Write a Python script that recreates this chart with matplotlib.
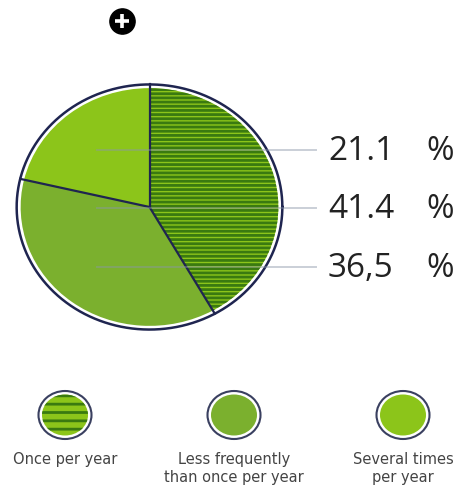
import matplotlib
matplotlib.use("Agg")
import matplotlib.pyplot as plt
from matplotlib.patches import Ellipse
import numpy as np

# data
categories = ["Once per year", "Less frequently\nthan once per year", "Several times\nper year"]
values = [41.4, 36.5, 21.1]
value_labels = ["41.4", "36,5", "21.1"]

NAVY = "#1f2550"
GREEN_LIGHT = "#8cc51a"
GREEN_MID = "#7bb02e"
STRIPE = "#3a7a10"
fills = [GREEN_LIGHT, GREEN_MID, GREEN_LIGHT]
hatches = ["----", None, None]

plt.rcParams["font.family"] = ["Open Sans", "DejaVu Sans"]
plt.rcParams["hatch.linewidth"] = 2.0

W, H = 461, 490
fig = plt.figure(figsize=(W / 100, H / 100), dpi=100)

# pie (slightly elliptical, as in the original)
pl, pt, pr, pb = 14, 82, 285, 332
pax = fig.add_axes([pl / W, 1 - pb / H, (pr - pl) / W, (pb - pt) / H])
wedges, _ = pax.pie(values, startangle=90, counterclock=False, radius=0.97,
                    colors=fills, wedgeprops=dict(linewidth=0))
for w, h in zip(wedges, hatches):
    if h:
        w.set_hatch(h)
        w.set_edgecolor(STRIPE)
pax.set_aspect("auto")
pax.set_xlim(-1.02, 1.02)
pax.set_ylim(-1.02, 1.02)
pax.axis("off")
# slice borders
for w in wedges:
    a = np.deg2rad(w.theta1)
    pax.plot([0, np.cos(a)], [0, np.sin(a)], color=NAVY, lw=1.6, zorder=5)
t = np.linspace(0, 2 * np.pi, 300)
pax.plot(np.cos(t), np.sin(t), color=NAVY, lw=1.8, zorder=5)

# pixel overlay axes for icon, leader lines, labels and legend
ax = fig.add_axes([0, 0, 1, 1])
ax.set_xlim(0, W)
ax.set_ylim(H, 0)
ax.axis("off")

# leader lines and percentage labels
label_order = [2, 0, 1]
label_y = [150, 208, 267]
for i, y in zip(label_order, label_y):
    ax.plot([97, 316], [y, y], color="#8a96a8", lw=1.4, alpha=0.45, zorder=3)
    ax.text(328, y + 1, value_labels[i], fontsize=24, color="#222222",
            ha="left", va="center")
    ax.text(426, y + 1, "%", fontsize=24, color="#222222",
            ha="left", va="center")

# plus icon
ax.scatter([122], [21], s=330, color="black", zorder=6)
ax.scatter([122], [21], s=90, marker="+", color="white", linewidths=2.6, zorder=7)

# legend
leg_x = [65, 234, 403]
leg_y = 415
for x, c, h, lab in zip(leg_x, fills, hatches, categories):
    ax.add_patch(Ellipse((x, leg_y), 53, 48, facecolor="white",
                         edgecolor="#3a4060", lw=1.5, zorder=4))
    ax.add_patch(Ellipse((x, leg_y), 46, 41, facecolor=c, lw=0, zorder=5))
    if h:
        ax.add_patch(Ellipse((x, leg_y), 46, 41, facecolor="none",
                             edgecolor=STRIPE, hatch="--", lw=0, zorder=6))
    ax.text(x, 452, lab, fontsize=10.5, color="#444444", ha="center", va="top",
            linespacing=1.25, family=["DejaVu Sans"])

fig.savefig("out.png", dpi=100)
